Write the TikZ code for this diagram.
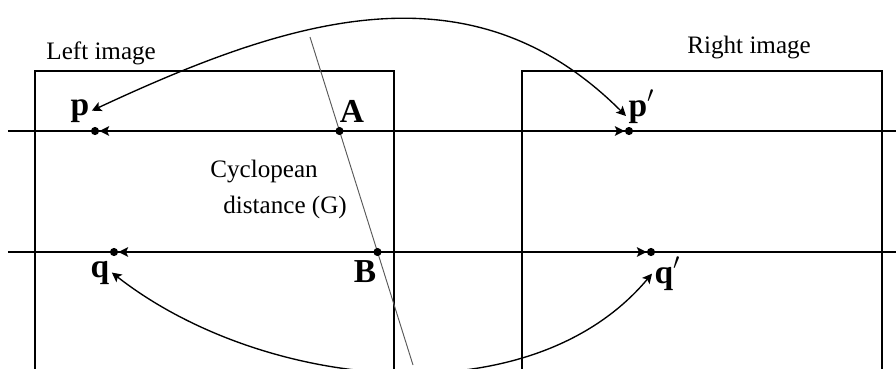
\documentclass[tikz,border=0pt]{standalone}
\usepackage{fontspec}
\setmainfont{Liberation Serif}
\usetikzlibrary{arrows.meta}
\begin{document}
\begin{tikzpicture}[x=0.0168cm,y=-0.0168cm,>={Stealth[length=4.6pt,width=4.6pt,inset=1pt]},
dot/.style={circle,fill,inner sep=0pt,minimum size=3.9pt},
lbl/.style={font=\fontsize{16}{18}\selectfont\bfseries,inner sep=1pt},
txt/.style={font=\fontsize{12}{14}\selectfont,inner sep=0pt,anchor=base west}]
\useasboundingbox(0,0)rectangle(896,368);
\clip(0,0)rectangle(896,368);
% image frames
\draw[line width=0.5pt](35,71)rectangle(394,380);
\draw[line width=0.5pt](522,71)rectangle(882,380);
\node[txt](lefttxt)at(46,59){Left image};
\node[txt](righttxt)at(687,53){Right image};
% scan lines
\coordinate(l1)at(8,131);\coordinate(r1)at(896,131);
\coordinate(l2)at(8,252);\coordinate(r2)at(896,252);
\draw[line width=0.75pt](l1)--(r1);
\draw[line width=0.75pt](l2)--(r2);
% cyclopean line
\coordinate(top)at(310,37);\coordinate(bot)at(413,365);
\draw[gray!70!black,line width=0.45pt](top)--(bot);
\node[dot](A)at(339.5,131){};
\node[dot](B)at(377.5,252){};
\node[dot](p)at(95,131){};
\node[dot](pp)at(629,131){};
\node[dot](q)at(114,252){};
\node[dot](qq)at(651,252){};
\draw[->,line width=0.75pt](A)--(p);
\draw[->,line width=0.75pt](A)--(pp);
\draw[->,line width=0.75pt](B)--(q);
\draw[->,line width=0.75pt](B)--(qq);
% labels
\node[lbl,anchor=base](plab)at(80,115){p};
\node[lbl,anchor=base](Alab)at(352,122){A};
\node[lbl,anchor=base west](pplab)at(626,116){p$'$};
\node[lbl,anchor=base](qlab)at(100,277){q};
\node[lbl,anchor=base](Blab)at(365,282){B};
\node[lbl,anchor=base west](qqlab)at(652,283){q$'$};
\node[txt](cyc)at(210,177){Cyclopean};
\node[txt](dist)at(223,213){distance (G)};
% correspondences
\draw[<->,line width=0.65pt](pplab.base west)to[out=135,in=25,looseness=1.05](plab.east);
\draw[<->,line width=0.65pt](qqlab.west)to[out=-130,in=-38,looseness=0.9](qlab.east);
\end{tikzpicture}
\end{document}
